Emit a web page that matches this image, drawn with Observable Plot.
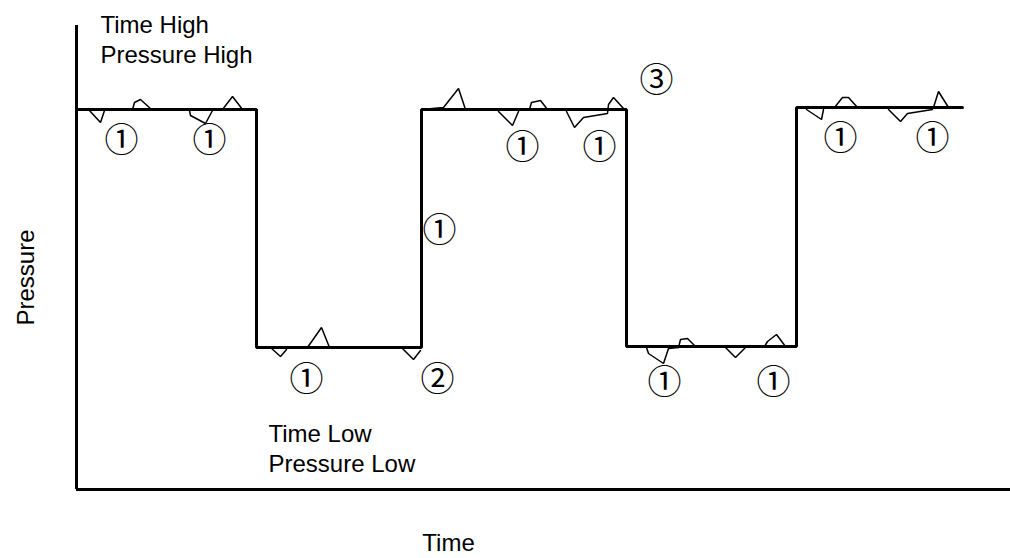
<!DOCTYPE html>
<html>
<head>
<meta charset="utf-8">
<script src="https://cdn.jsdelivr.net/npm/d3@7"></script>
<script src="https://cdn.jsdelivr.net/npm/@observablehq/plot@0.6"></script>
<style>
  html, body { margin: 0; padding: 0; background: #fff; }
  svg { display: block; }
</style>
</head>
<body>
<div id="chart"></div>
<script>
// Square pressure wave (time units, pressure units)
const waveTime     = [0,   180, 180, 345, 345, 550, 550, 720, 720, 886];
const wavePressure = [380, 380, 142, 142, 380, 380, 143, 143, 382, 382];

// Small glitches along the wave
const glitchTimes = [
  [12, 24, 28],
  [56, 58, 64, 75],
  [113, 114, 129, 136],
  [146, 156, 166],
  [194, 204, 210],
  [231, 245, 253],
  [326, 337, 344],
  [345, 367, 382, 389],
  [422, 436, 442],
  [453, 455, 464, 471],
  [490, 498, 507, 531, 532, 537, 547],
  [570, 572, 587, 592, 602],
  [602, 604, 611, 619],
  [649, 659, 669],
  [688, 691, 700, 709],
  [730, 745, 747],
  [758, 766, 772, 781],
  [812, 824, 831, 856],
  [857, 862, 872]
];
const glitchPressures = [
  [380, 367, 379],
  [380, 387, 390, 380],
  [379, 374, 366, 379],
  [380, 393, 380],
  [142, 133, 140],
  [142, 162, 142],
  [141, 130, 139],
  [380, 382, 401, 380],
  [378, 364, 378],
  [380, 387, 389, 380],
  [378, 362, 372, 376, 385, 392, 381],
  [142, 136, 126, 141, 142],
  [142, 150, 151, 143],
  [142, 132, 142],
  [143, 148, 155, 143],
  [380, 370, 380],
  [382, 392, 392, 382],
  [380, 368, 376, 380],
  [382, 398, 382]
];

// Circled markers
const markerLabels = ["①","①","①","①","①","①","②","①","①","①","①","③"];
const markerTime     = [45, 133, 446, 523, 363, 230, 361, 588, 697, 764, 856, 580];
const markerPressure = [348, 348, 341, 341, 258, 109, 109, 106, 106, 350, 350, 408];

// Annotations
const noteLabels   = ["Time High\nPressure High", "Time Low\nPressure Low"];
const noteTime     = [24, 192];
const notePressure = [427, 18];

const xLabel = "Time";
const yLabel = "Pressure";

const wave = waveTime.map((t, i) => ({t, p: wavePressure[i]}));
const glitches = glitchTimes.flatMap((ts, g) => ts.map((t, i) => ({g, t, p: glitchPressures[g][i]})));
const markers = markerLabels.map((label, i) => ({label, t: markerTime[i], p: markerPressure[i]}));
const notes = noteLabels.map((label, i) => ({label, t: noteTime[i], p: notePressure[i]}));

const font = "'Liberation Sans', Arial, sans-serif";

const chart = Plot.plot({
  width: 1010,
  height: 558,
  marginLeft: 76,
  marginRight: 0,
  marginTop: 25,
  marginBottom: 69,
  x: {domain: [0, 934], axis: null},
  y: {domain: [0, 464], axis: null},
  style: {background: "#fff", fontFamily: font},
  marks: [
    Plot.ruleX([0], {y1: 0, y2: 464, stroke: "#000", strokeWidth: 3}),
    Plot.ruleY([0], {x1: 0, x2: 934, stroke: "#000", strokeWidth: 3}),
    Plot.line(wave, {x: "t", y: "p", stroke: "#000", strokeWidth: 3, strokeLinejoin: "miter"}),
    Plot.line(glitches, {x: "t", y: "p", z: "g", stroke: "#000", strokeWidth: 1.5, strokeLinejoin: "miter"}),
    Plot.text(markers, {x: "t", y: "p", text: "label", fontSize: 34, fill: "#000",
      fontFamily: "'Noto Sans CJK SC', sans-serif", textAnchor: "middle", lineAnchor: "middle"}),
    Plot.text(notes, {x: "t", y: "p", text: "label", fontSize: 24, fill: "#000",
      textAnchor: "start", lineAnchor: "bottom", lineHeight: 1.25}),
    Plot.text([xLabel], {x: 372, y: -61, text: d => d, fontSize: 24, fill: "#000",
      textAnchor: "middle", lineAnchor: "bottom"}),
    Plot.text([yLabel], {x: -43, y: 212, text: d => d, fontSize: 24, fill: "#000",
      rotate: -90, textAnchor: "middle", lineAnchor: "bottom"})
  ]
});
document.getElementById("chart").appendChild(chart);
</script>
</body>
</html>
